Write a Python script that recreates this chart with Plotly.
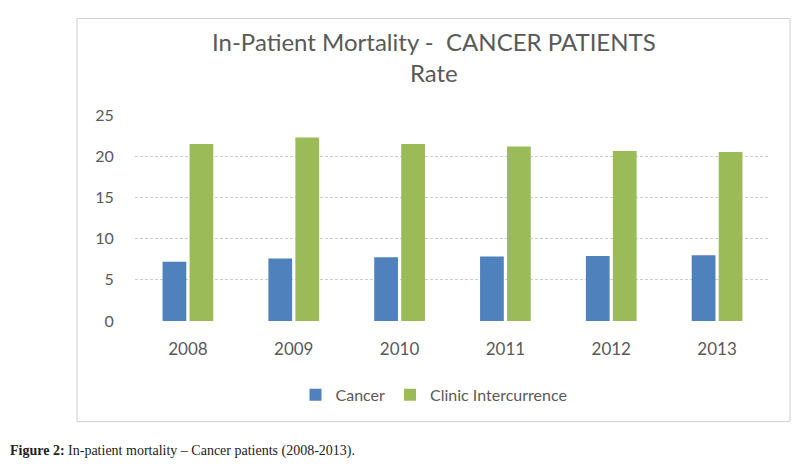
import plotly.graph_objects as go

years = ["2008", "2009", "2010", "2011", "2012", "2013"]
cancer = [7.2, 7.6, 7.75, 7.85, 7.9, 8.0]
clinic = [21.5, 22.3, 21.5, 21.2, 20.65, 20.55]
y_ticks = [0, 5, 10, 15, 20, 25]

# the page body has an 8px margin, so the figure is 784x460 placed at (8, 8)
OFF = 8
W, H = 784, 460
px = lambda x: max((x - OFF) / W, 0)
py = lambda y: 1 - (y - OFF) / H

gray = "#595959"
font_main = "Lato"

fig = go.Figure()
fig.add_trace(go.Bar(name="Cancer", x=years, y=cancer, marker_color="#4F81BD",
                     marker_line_width=0))
fig.add_trace(go.Bar(name="Clinic Intercurrence", x=years, y=clinic, marker_color="#9BBB59",
                     marker_line_width=0))

fig.update_layout(
    width=W, height=H,
    margin=dict(l=0, r=0, t=0, b=0),
    paper_bgcolor="white", plot_bgcolor="white",
    barmode="group", bargap=0.49, bargroupgap=0.12,
    showlegend=True,
    legend=dict(orientation="h", x=px(434), xanchor="center", y=py(401), yanchor="middle",
                font=dict(family=font_main, size=16, color=gray),
                itemwidth=30, traceorder="normal"),
    xaxis=dict(domain=[px(135), px(770)], showgrid=False, showline=False, zeroline=False,
               ticks="outside", ticklen=13, tickcolor="rgba(0,0,0,0)",
               tickfont=dict(family=font_main, size=17, color=gray)),
    yaxis=dict(domain=[py(324), py(109.5)], range=[0, 25], tickvals=y_ticks,
               showgrid=True, gridcolor="#cccccc", griddash="3px,2px", gridwidth=1,
               zeroline=False, showline=False,
               ticks="outside", ticklen=17, tickcolor="rgba(0,0,0,0)",
               tickfont=dict(family=font_main, size=16, color=gray)),
    shapes=[dict(type="rect", xref="paper", yref="paper",
                 x0=px(77), x1=px(790), y0=py(429), y1=py(8.5),
                 line=dict(color="#d0d0d0", width=1), fillcolor="rgba(0,0,0,0)", layer="below")],
    annotations=[
        dict(text="In-Patient Mortality -  CANCER PATIENTS<br>Rate", xref="paper", yref="paper",
             x=px(434), y=py(49), xanchor="center", yanchor="middle", showarrow=False,
             font=dict(family=font_main, size=24, color=gray), align="center"),
        dict(text="<b>Figure 2:</b> In-patient mortality \u2013 Cancer patients (2008-2013).",
             xref="paper", yref="paper", x=px(4), y=py(460),
             xanchor="left", yanchor="middle",
             showarrow=False, font=dict(family="Liberation Serif", size=14, color="#222222")),
    ],
)

fig.write_html("out.html")
